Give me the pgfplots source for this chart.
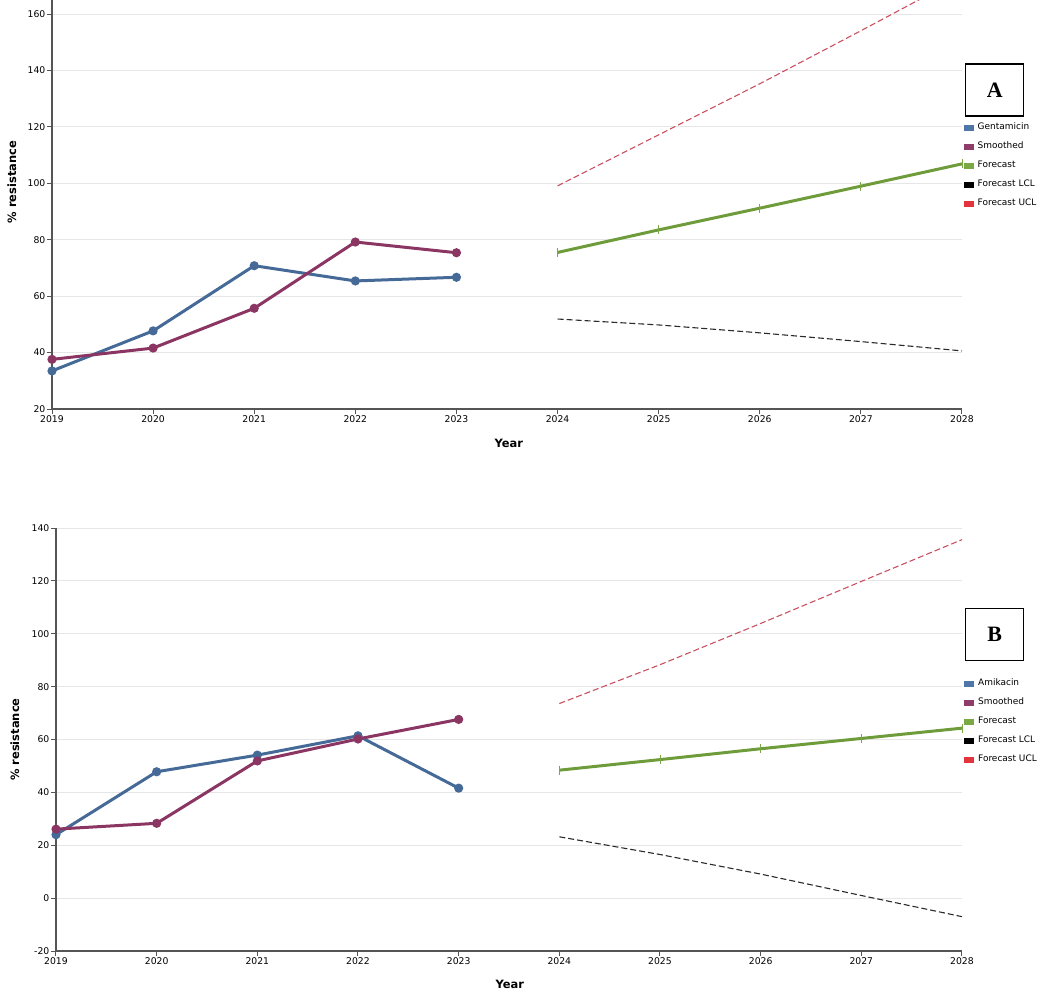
\documentclass[border=0pt]{standalone}
\usepackage{pgfplots}
\pgfplotsset{compat=1.18}
\usepackage{fontspec}
\setmainfont{DejaVu Sans}
\newfontfamily\boxfont{Liberation Serif}
\definecolor{gblue}{HTML}{456A98}
\definecolor{lblue}{HTML}{4F76A8}
\definecolor{gpurp}{HTML}{8B3563}
\definecolor{lpurp}{HTML}{8E3D6A}
\definecolor{ggreen}{HTML}{6F9C3A}
\definecolor{lgreen}{HTML}{79A845}
\definecolor{ucl}{HTML}{C9505F}
\definecolor{lred}{HTML}{E3333C}
\definecolor{lcl}{HTML}{2A2A2A}
\definecolor{axgray}{HTML}{555555}
\definecolor{gridgray}{HTML}{E6E6E6}

\pgfplotstableread{
x g s
2019 33.5 37.6
2020 47.7 41.6
2021 70.8 55.7
2022 65.4 79.2
2023 66.7 75.4
}\gentA
\pgfplotstableread{
x f l u
2024 75.5 51.9 99.1
2025 83.5 49.8 117.2
2026 91.2 47.0 135.3
2027 99.0 43.9 154.1
2028 106.9 40.6 173.2
}\foreA
\pgfplotstableread{
x g s
2019 24.0 26.1
2020 47.8 28.3
2021 54.1 51.9
2022 61.4 60.2
2023 41.6 67.6
}\amiB
\pgfplotstableread{
x f l u
2024 48.4 23.2 73.6
2025 52.4 16.5 88.3
2026 56.5 9.1 103.9
2027 60.4 1.0 119.8
2028 64.3 -7.0 135.6
}\foreB

\pgfplotsset{
  base/.style={
    scale only axis,
    clip mode=individual,
    axis lines=left,
    axis line style={draw=axgray, line width=1.3bp, -},
    xmin=2019, xmax=2028,
    xtick={2019,2020,...,2028},
    ymajorgrids,
    grid style={gridgray, line width=1bp},
    tick align=outside,
    major tick length=5bp,
    tick style={axgray, line width=1bp},
    /pgf/number format/1000 sep={},
    /pgf/number format/assume math mode=true,
    ticklabel style={font=\fontsize{9.3}{11}\selectfont, inner sep=1.5bp},
    label style={font=\bfseries\fontsize{11.5}{13}\selectfont},
    xlabel={Year},
    ylabel={\% resistance},
    legend cell align=left,
    legend style={draw=none, fill=none, inner sep=0pt, outer sep=0pt,
      anchor=north west, font=\fontsize{9}{10}\selectfont,
      row sep=10.7bp,
      nodes={inner sep=0pt, text height=6.5bp, text depth=1.8bp},
      /tikz/every odd column/.style={column sep=4.5bp}},
  },
  obs/.style={line width=3bp, mark=*, mark size=3bp, mark options={solid}},
  fc/.style={line width=3bp, ggreen, mark=|, mark size=4.5bp, mark options={solid, line width=0.9bp, lgreen}},
  dl/.style={line width=1.1bp, dash pattern=on 6bp off 3bp},
}

\begin{document}
\begin{tikzpicture}
\useasboundingbox (0bp,0bp) rectangle (1052bp,-997bp);

% ---------- Panel A ----------
\begin{axis}[base,
  at={(52bp,-409bp)}, anchor=south west,
  width=910bp, height=409bp,
  ymin=20, ymax=165,
  ytick={20,40,...,160},
  xlabel style={at={(axis description cs:0.502,-0.083)}, anchor=center},
  ylabel style={at={(axis description cs:-0.044,0.555)}, anchor=center},
  legend style={at={(1.002,0.699)}},
]
\addlegendimage{legend image code/.code={\fill[lblue] (0bp,-2.5bp) rectangle (9bp,2.5bp);}}
\addlegendentry{Gentamicin}
\addlegendimage{legend image code/.code={\fill[lpurp] (0bp,-2.5bp) rectangle (9bp,2.5bp);}}
\addlegendentry{Smoothed}
\addlegendimage{legend image code/.code={\fill[lgreen] (0bp,-2.5bp) rectangle (9bp,2.5bp);}}
\addlegendentry{Forecast}
\addlegendimage{legend image code/.code={\fill[black] (0bp,-2.5bp) rectangle (9bp,2.5bp);}}
\addlegendentry{Forecast LCL}
\addlegendimage{legend image code/.code={\fill[lred] (0bp,-2.5bp) rectangle (9bp,2.5bp);}}
\addlegendentry{Forecast UCL}

\addplot[forget plot, dl, ucl] table[x=x, y=u] {\foreA};
\addplot[forget plot, dl, lcl] table[x=x, y=l] {\foreA};
\addplot[forget plot, obs, gblue] table[x=x, y=g] {\gentA};
\addplot[forget plot, obs, gpurp] table[x=x, y=s] {\gentA};
\addplot[forget plot, fc] table[x=x, y=f] {\foreA};

\node[draw=black, line width=1.3bp, minimum width=58bp, minimum height=52bp, inner sep=0pt,
  font=\boxfont\bfseries\fontsize{22}{24}\selectfont]
  at (rel axis cs:1.036,0.780) {A};
\end{axis}

% ---------- Panel B ----------
\begin{axis}[base,
  at={(56bp,-951bp)}, anchor=south west,
  width=906bp, height=423bp,
  ymin=-20, ymax=140,
  ytick={-20,0,...,140},
  xlabel style={at={(axis description cs:0.501,-0.080)}, anchor=center},
  ylabel style={at={(axis description cs:-0.0453,0.5)}, anchor=center},
  legend style={at={(1.0025,0.642)}},
]
\addlegendimage{legend image code/.code={\fill[lblue] (0bp,-2.5bp) rectangle (9bp,2.5bp);}}
\addlegendentry{Amikacin}
\addlegendimage{legend image code/.code={\fill[lpurp] (0bp,-2.5bp) rectangle (9bp,2.5bp);}}
\addlegendentry{Smoothed}
\addlegendimage{legend image code/.code={\fill[lgreen] (0bp,-2.5bp) rectangle (9bp,2.5bp);}}
\addlegendentry{Forecast}
\addlegendimage{legend image code/.code={\fill[black] (0bp,-2.5bp) rectangle (9bp,2.5bp);}}
\addlegendentry{Forecast LCL}
\addlegendimage{legend image code/.code={\fill[lred] (0bp,-2.5bp) rectangle (9bp,2.5bp);}}
\addlegendentry{Forecast UCL}

\addplot[forget plot, dl, ucl] table[x=x, y=u] {\foreB};
\addplot[forget plot, dl, lcl] table[x=x, y=l] {\foreB};
\addplot[forget plot, obs, gblue] table[x=x, y=g] {\amiB};
\addplot[forget plot, obs, gpurp] table[x=x, y=s] {\amiB};
\addplot[forget plot, fc] table[x=x, y=f] {\foreB};

\node[draw=black, line width=1.3bp, minimum width=58bp, minimum height=52bp, inner sep=0pt,
  font=\boxfont\bfseries\fontsize{22}{24}\selectfont]
  at (rel axis cs:1.036,0.749) {B};
\end{axis}
\end{tikzpicture}
\end{document}
